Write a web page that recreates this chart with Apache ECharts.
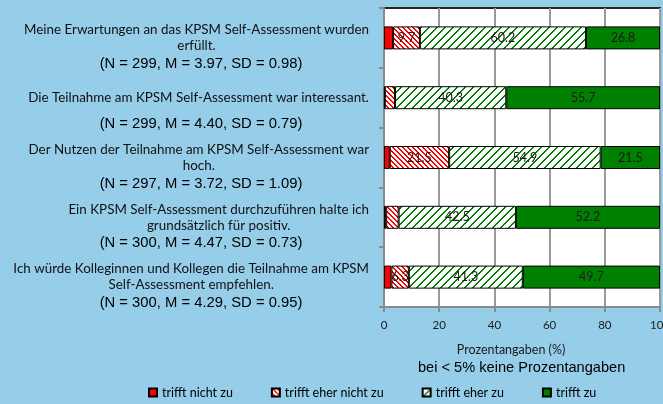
<!DOCTYPE html>
<html><head><meta charset="utf-8">
<script src="https://cdn.jsdelivr.net/npm/echarts@6/dist/echarts.min.js"></script>
<style>html,body{margin:0;padding:0;background:#96CEEA;}#c{width:663px;height:404px;}</style>
</head><body><div id="c"></div>
<script>
const questions = [
  "Meine Erwartungen an das KPSM Self-Assessment wurden\nerfüllt.",
  "Die Teilnahme am KPSM Self-Assessment war interessant.",
  "Der Nutzen der Teilnahme am KPSM Self-Assessment war\nhoch.",
  "Ein KPSM Self-Assessment durchzuführen halte ich\ngrundsätzlich für positiv.",
  "Ich würde Kolleginnen und Kollegen die Teilnahme am KPSM\nSelf-Assessment empfehlen."
];
const stats = [
  "(N = 299, M = 3.97, SD = 0.98)",
  "(N = 299, M = 4.40, SD = 0.79)",
  "(N = 297, M = 3.72, SD = 1.09)",
  "(N = 300, M = 4.47, SD = 0.73)",
  "(N = 300, M = 4.29, SD = 0.95)"
];
const seriesNames = ["trifft nicht zu", "trifft eher nicht zu", "trifft eher zu", "trifft zu"];
const trifftNichtZu = [3.3, 0.3, 2.1, 0.8, 2.7];
const trifftEherNichtZu = [9.7, 3.7, 21.5, 4.5, 6.3];
const trifftEherZu = [60.2, 40.3, 54.9, 42.5, 41.3];
const trifftZu = [26.8, 55.7, 21.5, 52.2, 49.7];
const xTicks = [0, 20, 40, 60, 80, 100];

function hatch(color, n, dir, thick) {
  const c = document.createElement('canvas');
  c.width = n; c.height = n;
  const g = c.getContext('2d');
  g.fillStyle = '#ffffff'; g.fillRect(0, 0, n, n);
  g.fillStyle = color;
  for (let i = 0; i < n; i++) {
    for (let t = 0; t < thick; t++) {
      const x = (i + t) % n;
      const y = dir === 'down' ? i : n - 1 - i;
      g.fillRect(x, y, 1, 1);
    }
  }
  return c;
}
const redHatch = { image: hatch('#FF0000', 5, 'down', 2), repeat: 'repeat' };
const greenHatch = { image: hatch('#008000', 8, 'up', 2), repeat: 'repeat' };

const colors = ['#FF0000', redHatch, greenHatch, '#008000'];
const values = [trifftNichtZu, trifftEherNichtZu, trifftEherZu, trifftZu];

const chart = echarts.init(document.getElementById('c'), null, { renderer: 'canvas' });
const option = {
  backgroundColor: '#96CEEA',
  animation: false,
  grid: { left: 384, right: 3, top: 8, bottom: 97, outerBoundsMode: 'none', containLabel: false,
    show: true, backgroundColor: '#ffffff', borderColor: '#262626', borderWidth: 2 },
  legend: {
    data: seriesNames, top: 386, left: 148, padding: 0, itemWidth: 8, itemHeight: 8, itemGap: 38,
    icon: 'rect',
    textStyle: { fontFamily: 'Lato', fontSize: 12.5, color: '#000' }
  },
  xAxis: {
    type: 'value', min: 0, max: 100, interval: 20,
    axisLine: { show: true, lineStyle: { color: '#8a8a8a', width: 2 } },
    axisTick: { show: true, length: 5, lineStyle: { color: '#8a8a8a', width: 2 } },
    splitLine: { show: true, lineStyle: { color: '#9a9a9a', width: 2 } },
    axisLabel: { fontFamily: 'Lato', fontSize: 11.5, color: '#1a1a1a', margin: 12,
      formatter: v => xTicks.includes(v) ? String(v) : '' },
    name: 'Prozentangaben (%)', nameLocation: 'middle', nameGap: 36,
    nameTextStyle: { fontFamily: 'Lato', fontSize: 12.5, color: '#1a1a1a', padding: [0, 22, 0, 0] }
  },
  yAxis: [{
    type: 'category', inverse: true, data: questions,
    axisLine: { show: true, lineStyle: { color: '#8a8a8a', width: 2 } },
    axisTick: { show: true, length: 5, lineStyle: { color: '#8a8a8a', width: 2 } },
    axisLabel: {
      margin: 15, align: 'right',
      formatter: v => v.split('\n').map(l => '{q|' + l + '}').join('\n'),
      rich: { q: { fontFamily: 'Lato', fontSize: 13.4, color: '#111', align: 'center', lineHeight: 16 } }
    }
  }, {
    type: 'category', inverse: true, data: stats, position: 'left',
    axisLine: { show: false }, axisTick: { show: false },
    axisLabel: {
      margin: 183, align: 'center',
      formatter: v => '{sp| }\n{s|' + v + '}',
      rich: {
        sp: { fontSize: 10, lineHeight: 52 },
        s: { fontFamily: 'Liberation Sans', fontSize: 14.8, color: '#000', lineHeight: 16 }
      }
    }
  }],
  series: seriesNames.map((name, i) => ({
    name, type: 'bar', stack: 'total', barWidth: 23, yAxisIndex: 0,
    data: values[i],
    itemStyle: { color: colors[i], borderColor: '#000', borderWidth: 1 },
    label: {
      show: true, position: 'inside', fontFamily: 'Lato', fontSize: 12.5, color: '#1a1a1a',
      formatter: p => p.value >= 5 ? p.value.toFixed(1) : ''
    }
  })),
  graphic: [{
    type: 'text', left: 418, top: 360,
    style: { text: 'bei < 5% keine Prozentangaben', fontFamily: 'Liberation Sans', fontSize: 14.6, fill: '#000' }
  }]
};
chart.setOption(option);
</script>
</body></html>
